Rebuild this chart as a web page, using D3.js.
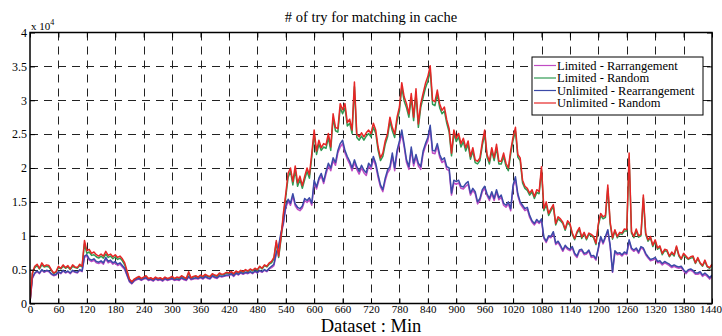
<!DOCTYPE html>
<html>
<head>
<meta charset="utf-8">
<script src="https://cdn.jsdelivr.net/npm/d3@7"></script>
<style>
  html, body { margin: 0; padding: 0; background: #fff; }
  svg { display: block; }
  text { font-family: "Liberation Serif", "Times New Roman", serif; fill: #000; }
</style>
</head>
<body>
<svg id="chart" width="722" height="336"></svg>
<script>
// Number of tries needed to find a match in the cache, per minute of the day (values in units of 10^4)
const minutes = d3.range(0, 1441, 5);

const limitedRearrangement = [
  0.02,0.37,0.44,0.47,0.44,0.49,0.46,0.48,0.47,0.43,0.41,0.42,
  0.46,0.44,0.48,0.45,0.47,0.44,0.48,0.46,0.45,0.49,0.47,0.68,
  0.70,0.64,0.62,0.64,0.60,0.59,0.61,0.58,0.66,0.60,0.62,0.58,
  0.60,0.56,0.58,0.54,0.50,0.41,0.32,0.29,0.33,0.35,0.36,0.34,
  0.36,0.37,0.34,0.35,0.33,0.36,0.34,0.35,0.33,0.36,0.34,0.35,
  0.36,0.34,0.35,0.34,0.37,0.35,0.34,0.39,0.35,0.36,0.37,0.36,
  0.38,0.36,0.39,0.37,0.36,0.40,0.38,0.37,0.40,0.39,0.40,0.41,
  0.41,0.43,0.40,0.44,0.42,0.45,0.43,0.45,0.44,0.46,0.44,0.47,
  0.45,0.48,0.46,0.49,0.47,0.51,0.53,0.56,0.73,0.83,1.02,1.17,
  1.41,1.51,1.45,1.59,1.44,1.39,1.37,1.41,1.52,1.49,1.53,1.45,
  1.78,1.69,1.82,1.88,1.77,1.91,2.03,1.96,2.11,2.04,2.22,2.31,
  2.36,2.22,2.13,2.06,1.96,2.08,1.98,1.91,2.00,1.93,1.89,2.03,
  1.98,2.13,2.03,1.86,1.72,1.65,1.81,1.93,1.98,2.18,1.96,2.22,
  2.35,2.51,2.31,2.08,1.98,2.27,2.03,2.16,2.03,1.98,2.21,2.32,
  2.40,2.58,2.22,2.21,2.32,2.16,2.08,2.11,1.98,1.96,1.60,1.78,
  1.76,1.78,1.70,1.69,1.73,1.76,1.60,1.67,1.62,1.47,1.52,1.65,
  1.70,1.59,1.52,1.62,1.52,1.65,1.53,1.57,1.45,1.42,1.47,1.37,
  1.72,1.83,1.59,1.47,1.42,1.37,1.39,1.27,1.20,1.16,1.21,1.18,
  1.22,0.96,0.90,0.98,0.97,1.04,0.87,0.90,0.84,0.77,0.84,0.80,
  0.78,0.82,0.72,0.68,0.77,0.78,0.72,0.73,0.77,0.68,0.69,0.64,
  0.80,0.97,0.88,0.97,1.07,0.84,0.46,0.76,0.72,0.73,0.70,0.74,
  0.72,0.92,0.80,0.77,0.80,0.74,0.82,0.80,0.72,0.67,0.63,0.64,
  0.66,0.60,0.61,0.57,0.60,0.58,0.56,0.53,0.55,0.53,0.52,0.53,
  0.48,0.44,0.48,0.49,0.47,0.43,0.43,0.45,0.40,0.43,0.40,0.36,
  0.40
];

const limitedRandom = [
  0.02,0.44,0.53,0.56,0.51,0.57,0.54,0.55,0.54,0.49,0.44,0.46,
  0.53,0.51,0.55,0.52,0.54,0.50,0.55,0.53,0.52,0.56,0.54,0.88,
  0.74,0.76,0.71,0.72,0.69,0.67,0.70,0.67,0.73,0.68,0.70,0.66,
  0.69,0.65,0.67,0.63,0.57,0.46,0.35,0.31,0.35,0.37,0.39,0.36,
  0.38,0.40,0.36,0.37,0.35,0.38,0.36,0.37,0.35,0.38,0.36,0.37,
  0.39,0.36,0.38,0.37,0.40,0.38,0.36,0.45,0.37,0.39,0.40,0.38,
  0.41,0.39,0.42,0.40,0.39,0.43,0.41,0.40,0.44,0.42,0.43,0.45,
  0.44,0.46,0.43,0.47,0.45,0.48,0.46,0.49,0.47,0.50,0.48,0.51,
  0.49,0.54,0.51,0.56,0.54,0.58,0.60,0.66,0.90,0.68,0.95,1.29,
  1.57,1.86,1.95,1.75,1.97,1.73,1.83,1.70,1.83,1.95,1.85,2.16,
  2.50,2.20,2.35,2.26,2.31,2.29,2.45,2.26,2.74,2.55,2.53,2.89,
  2.80,2.89,2.62,2.66,2.51,3.20,2.45,2.41,2.47,2.41,2.47,2.51,
  2.46,2.60,2.51,2.26,2.11,2.17,2.35,2.46,2.69,2.55,2.45,2.69,
  2.84,3.19,2.99,2.89,2.75,3.04,2.70,3.10,2.60,2.89,3.04,3.18,
  3.28,3.44,2.94,2.92,3.09,2.89,2.80,2.84,2.66,2.53,2.18,2.51,
  2.39,2.46,2.31,2.39,2.25,2.35,2.13,2.25,2.08,2.06,2.11,2.33,
  2.50,2.16,2.06,2.25,2.11,2.30,2.06,2.06,2.17,2.03,1.96,2.21,
  2.41,2.54,2.16,2.11,1.78,1.70,1.67,1.60,1.65,1.55,1.64,1.62,
  1.97,1.37,1.46,1.30,1.37,1.43,1.16,1.25,1.22,1.18,1.08,1.19,
  1.16,1.02,0.94,1.04,1.09,0.96,1.03,0.94,1.02,1.00,0.97,0.87,
  1.15,1.30,1.25,1.27,1.70,1.17,0.95,1.07,0.97,1.03,1.02,1.07,
  1.07,2.16,1.04,0.97,1.07,0.98,1.00,1.56,1.02,0.92,0.97,0.84,
  0.92,0.80,0.83,0.72,0.78,0.77,0.69,0.74,0.70,0.83,0.70,0.65,
  0.72,0.68,0.65,0.67,0.68,0.59,0.66,0.59,0.55,0.62,0.54,0.52,
  0.57
];

const unlimitedRearrangement = [
  0.02,0.38,0.45,0.48,0.45,0.50,0.47,0.49,0.48,0.44,0.42,0.43,
  0.47,0.45,0.49,0.46,0.48,0.45,0.49,0.47,0.46,0.50,0.48,0.70,
  0.72,0.66,0.64,0.66,0.62,0.61,0.63,0.60,0.68,0.62,0.64,0.60,
  0.62,0.58,0.60,0.56,0.52,0.42,0.33,0.30,0.34,0.36,0.37,0.35,
  0.37,0.38,0.35,0.36,0.34,0.37,0.35,0.36,0.34,0.37,0.35,0.36,
  0.37,0.35,0.36,0.35,0.38,0.36,0.35,0.40,0.36,0.37,0.38,0.37,
  0.39,0.37,0.40,0.38,0.37,0.41,0.39,0.38,0.41,0.40,0.41,0.42,
  0.42,0.44,0.41,0.45,0.43,0.46,0.44,0.46,0.45,0.47,0.45,0.48,
  0.46,0.49,0.47,0.50,0.48,0.52,0.55,0.58,0.75,0.85,1.05,1.20,
  1.44,1.54,1.48,1.62,1.47,1.42,1.40,1.44,1.55,1.52,1.56,1.48,
  1.82,1.72,1.85,1.92,1.80,1.95,2.07,2.00,2.15,2.08,2.26,2.36,
  2.41,2.26,2.17,2.10,2.00,2.12,2.02,1.95,2.04,1.97,1.93,2.07,
  2.02,2.17,2.07,1.90,1.75,1.68,1.85,1.97,2.02,2.22,2.00,2.26,
  2.40,2.56,2.35,2.12,2.02,2.31,2.07,2.20,2.07,2.02,2.25,2.36,
  2.45,2.63,2.26,2.25,2.36,2.20,2.12,2.15,2.02,2.00,1.63,1.82,
  1.80,1.82,1.73,1.72,1.77,1.80,1.63,1.70,1.65,1.50,1.55,1.68,
  1.73,1.62,1.55,1.65,1.55,1.68,1.56,1.60,1.48,1.45,1.50,1.40,
  1.75,1.87,1.62,1.50,1.45,1.40,1.42,1.30,1.22,1.18,1.24,1.20,
  1.25,0.98,0.92,1.00,0.99,1.06,0.89,0.92,0.86,0.79,0.86,0.82,
  0.80,0.84,0.74,0.70,0.79,0.80,0.74,0.75,0.79,0.70,0.71,0.66,
  0.82,0.99,0.90,0.99,1.09,0.86,0.47,0.78,0.74,0.75,0.72,0.76,
  0.74,0.94,0.82,0.79,0.82,0.76,0.84,0.82,0.74,0.69,0.65,0.66,
  0.68,0.62,0.63,0.59,0.62,0.60,0.58,0.55,0.57,0.55,0.54,0.55,
  0.50,0.46,0.50,0.51,0.49,0.45,0.45,0.47,0.42,0.45,0.42,0.38,
  0.42
];

const unlimitedRandom = [
  0.02,0.45,0.55,0.58,0.52,0.60,0.55,0.57,0.56,0.50,0.45,0.47,
  0.55,0.52,0.57,0.53,0.56,0.51,0.57,0.54,0.53,0.58,0.55,0.93,
  0.78,0.80,0.74,0.76,0.72,0.70,0.73,0.70,0.77,0.71,0.73,0.69,
  0.72,0.68,0.70,0.66,0.60,0.48,0.36,0.32,0.36,0.38,0.40,0.37,
  0.39,0.41,0.37,0.38,0.36,0.39,0.37,0.38,0.36,0.39,0.37,0.38,
  0.40,0.37,0.39,0.38,0.41,0.39,0.37,0.47,0.38,0.40,0.41,0.39,
  0.42,0.40,0.43,0.41,0.40,0.44,0.42,0.41,0.45,0.43,0.44,0.46,
  0.45,0.47,0.44,0.48,0.46,0.49,0.47,0.50,0.48,0.51,0.49,0.52,
  0.50,0.55,0.52,0.57,0.55,0.60,0.62,0.68,0.93,0.70,0.98,1.33,
  1.62,1.92,2.00,1.80,2.03,1.78,1.88,1.74,1.88,2.00,1.90,2.22,
  2.56,2.25,2.41,2.30,2.36,2.34,2.51,2.31,2.80,2.60,2.58,2.95,
  2.86,2.95,2.67,2.72,2.56,3.27,2.50,2.46,2.52,2.46,2.52,2.56,
  2.51,2.66,2.56,2.31,2.15,2.22,2.40,2.51,2.75,2.60,2.50,2.75,
  2.90,3.26,3.05,2.95,2.80,3.10,2.75,3.17,2.65,2.95,3.10,3.25,
  3.35,3.51,3.00,2.98,3.15,2.95,2.85,2.90,2.71,2.58,2.22,2.56,
  2.44,2.51,2.36,2.44,2.30,2.40,2.17,2.30,2.12,2.10,2.15,2.38,
  2.56,2.20,2.10,2.30,2.15,2.35,2.10,2.10,2.22,2.07,2.00,2.26,
  2.46,2.60,2.20,2.15,1.82,1.73,1.70,1.63,1.68,1.58,1.68,1.65,
  2.02,1.40,1.50,1.33,1.40,1.46,1.18,1.28,1.25,1.20,1.10,1.22,
  1.18,1.04,0.96,1.06,1.12,0.98,1.05,0.96,1.04,1.02,0.99,0.89,
  1.18,1.33,1.28,1.30,1.75,1.20,0.97,1.09,0.99,1.05,1.04,1.10,
  1.09,2.22,1.06,0.99,1.10,1.00,1.02,1.60,1.04,0.94,0.99,0.86,
  0.94,0.82,0.85,0.74,0.80,0.79,0.70,0.76,0.72,0.85,0.72,0.66,
  0.74,0.70,0.66,0.69,0.70,0.60,0.68,0.60,0.56,0.64,0.55,0.53,
  0.58
];

const seriesNames = ["Limited - Rarrangement", "Limited - Random", "Unlimited - Rearrangement", "Unlimited - Random"];
const seriesColors = ["#c04cc4", "#2f9a52", "#3b4aa8", "#e62626"];
const xTickValues = d3.range(0, 1441, 60);
const yTickValues = [0, 0.5, 1, 1.5, 2, 2.5, 3, 3.5, 4];
const yTickLabels = ["0", "0.5", "1", "1.5", "2", "2.5", "3", "3.5", "4"];

(function draw() {
  const svg = d3.select("#chart");
  const W = 722, H = 336;
  const pL = 30, pR = 712, pT = 32.5, pB = 303.5;
  const serif = "'Liberation Serif', 'Times New Roman', serif";

  svg.append("rect").attr("width", W).attr("height", H).attr("fill", "#fff");

  const x = d3.scaleLinear().domain([0, 1440]).range([pL, pR]);
  const y = d3.scaleLinear().domain([0, 4]).range([pB, pT]);

  // dashed grid
  const grid = svg.append("g").attr("stroke", "#222").attr("stroke-width", 1)
    .attr("stroke-dasharray", "8,6").attr("fill", "none");
  grid.selectAll("line.v").data(xTickValues.slice(1, -1)).join("line")
    .attr("class", "v")
    .attr("x1", d => Math.round(x(d)) + 0.5).attr("x2", d => Math.round(x(d)) + 0.5)
    .attr("y1", pT).attr("y2", pB);
  grid.selectAll("line.h").data(yTickValues.slice(1, -1)).join("line")
    .attr("class", "h")
    .attr("y1", d => Math.round(y(d)) + 0.5).attr("y2", d => Math.round(y(d)) + 0.5)
    .attr("x1", pL).attr("x2", pR);

  // series lines
  const series = [limitedRearrangement, limitedRandom, unlimitedRearrangement, unlimitedRandom];
  const line = d3.line().x((d, i) => x(minutes[i])).y(d => y(d));
  svg.append("clipPath").attr("id", "plotclip")
    .append("rect").attr("x", pL).attr("y", pT).attr("width", pR - pL).attr("height", pB - pT);
  const lines = svg.append("g").attr("clip-path", "url(#plotclip)");
  series.forEach((vals, k) => {
    lines.append("path").datum(vals)
      .attr("d", line)
      .attr("fill", "none")
      .attr("stroke", seriesColors[k])
      .attr("stroke-width", 1.5)
      .attr("stroke-linejoin", "round");
  });

  // axes with inward ticks on all four sides
  const xAxis = d3.axisBottom(x).tickValues(xTickValues).tickFormat(d3.format("d"))
    .tickSizeInner(-5).tickSizeOuter(0).tickPadding(2);
  const gx = svg.append("g").attr("transform", `translate(0,${pB})`).call(xAxis);
  const yAxis = d3.axisLeft(y).tickValues(yTickValues).tickFormat((d, i) => yTickLabels[i])
    .tickSizeInner(-5).tickSizeOuter(0).tickPadding(3);
  const gy = svg.append("g").attr("transform", `translate(${pL},0)`).call(yAxis);
  const gxTop = svg.append("g").attr("transform", `translate(0,${pT})`)
    .call(d3.axisTop(x).tickValues(xTickValues).tickFormat("").tickSizeInner(-5).tickSizeOuter(0));
  const gyRight = svg.append("g").attr("transform", `translate(${pR},0)`)
    .call(d3.axisRight(y).tickValues(yTickValues).tickFormat("").tickSizeInner(-5).tickSizeOuter(0));
  [gx, gy, gxTop, gyRight].forEach(g => {
    g.attr("font-family", serif);
    g.select(".domain").remove();
    g.selectAll(".tick line").attr("stroke", "#000");
    g.selectAll("text").attr("font-family", serif).attr("fill", "#000");
  });
  gx.selectAll("text").attr("font-size", 11);
  gy.selectAll("text").attr("font-size", 12);
  // the last bottom label sits at the right edge of the figure
  gx.selectAll(".tick").filter(d => d === 1440).select("text").attr("dx", -1.5);

  // plot box
  svg.append("rect").attr("x", pL).attr("y", pT).attr("width", pR - pL).attr("height", pB - pT)
    .attr("fill", "none").attr("stroke", "#000").attr("stroke-width", 1.5);

  // exponent of the y scale
  const expo = svg.append("text").attr("x", 31).attr("y", 29.5).attr("font-size", 11);
  expo.append("tspan").text("x 10");
  expo.append("tspan").attr("dy", -5).attr("font-size", 8).text("4");

  // title
  svg.append("text").attr("x", 371).attr("y", 22).attr("text-anchor", "middle")
    .attr("font-size", 14.5).text("# of try for matching in cache");

  // x label
  svg.append("text").attr("x", 371).attr("y", 331.5).attr("text-anchor", "middle")
    .attr("font-size", 18.5).text("Dataset : Min");

  // legend
  const lg = svg.append("g");
  lg.append("rect").attr("x", 532).attr("y", 57).attr("width", 171).attr("height", 58)
    .attr("fill", "#fff").attr("stroke", "#000").attr("stroke-width", 1);
  seriesNames.forEach((name, i) => {
    const yy = 65.5 + i * 12.5;
    lg.append("line").attr("x1", 534).attr("x2", 556).attr("y1", yy).attr("y2", yy)
      .attr("stroke", seriesColors[i]).attr("stroke-width", 1.2);
    lg.append("text").attr("x", 557).attr("y", yy).attr("dy", "0.35em")
      .attr("font-size", 12.5).text(name);
  });
})();
</script>
</body>
</html>
